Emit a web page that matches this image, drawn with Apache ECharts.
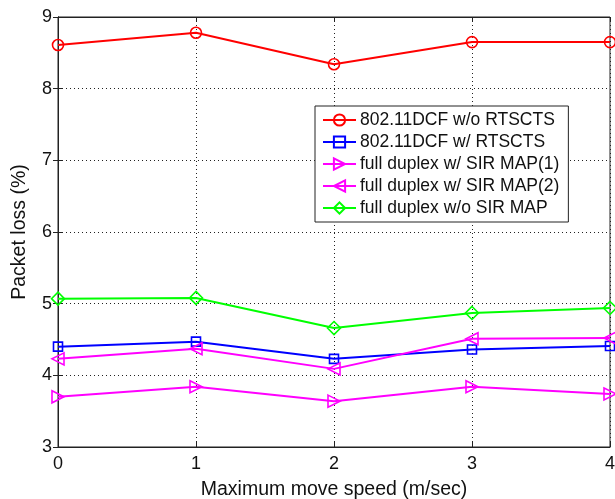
<!DOCTYPE html>
<html>
<head>
<meta charset="utf-8">
<script src="https://cdn.jsdelivr.net/npm/echarts@6/dist/echarts.min.js"></script>
<style>
  html, body { margin: 0; padding: 0; background: #fff; }
  #chart { width: 615px; height: 499px; }
</style>
</head>
<body>
<div id="chart"></div>
<script>
var speeds = [0, 1, 2, 3, 4]
var names = [
  '802.11DCF w/o RTSCTS',
  '802.11DCF w/ RTSCTS',
  'full duplex w/ SIR MAP(1)',
  'full duplex w/ SIR MAP(2)',
  'full duplex w/o SIR MAP'
]
var dcfNoRts = [8.61, 8.78, 8.34, 8.65, 8.65]
var dcfRts = [4.40, 4.47, 4.23, 4.36, 4.41]
var sirMap1 = [3.70, 3.84, 3.64, 3.84, 3.74]
var sirMap2 = [4.23, 4.37, 4.09, 4.51, 4.52]
var noSirMap = [5.07, 5.08, 4.66, 4.87, 4.94]

var colors = ['#ff0000', '#0000ff', '#ff00ff', '#ff00ff', '#00ff00']
var symbols = [
  'circle',
  'rect',
  'path://M0,0 L10,5 L0,10 Z',
  'path://M10,0 L0,5 L10,10 Z',
  'diamond'
]
var sizes = [11, 9, 12, 12, 13]
var values = [dcfNoRts, dcfRts, sirMap1, sirMap2, noSirMap]

function pairs(ys) {
  return speeds.map(function (x, i) { return [x, ys[i]] })
}

var series = values.map(function (ys, i) {
  return {
    name: names[i],
    type: 'line',
    data: pairs(ys),
    symbol: symbols[i],
    symbolSize: sizes[i],
    showAllSymbol: true,
    animation: false,
    lineStyle: { color: colors[i], width: 2 },
    itemStyle: { color: 'rgba(255,255,255,0)', borderColor: colors[i], borderWidth: 1.6 }
  }
})

var chart = echarts.init(document.getElementById('chart'))

var font = 'Liberation Sans, Arial, sans-serif'
var axisFont = { color: '#111', fontSize: 18, fontFamily: font }
var nameFont = { color: '#111', fontSize: 19.5, fontFamily: font }

chart.setOption({
  backgroundColor: '#fff',
  animation: false,
  grid: {
    left: 58, right: 5, top: 17, bottom: 52,
    outerBoundsMode: 'none',
    containLabel: false,
    show: true, borderColor: '#222', borderWidth: 1
  },
  legend: {
    orient: 'vertical',
    left: 315,
    top: 106,
    backgroundColor: '#fff',
    borderColor: '#222',
    borderWidth: 1,
    borderRadius: 0,
    padding: [5, 9, 5, 7],
    itemGap: 4,
    itemWidth: 33,
    itemHeight: 14,
    textStyle: { color: '#111', fontSize: 17.5, fontFamily: font, padding: [0, 0, 0, -1] },
    data: names
  },
  xAxis: [{
    type: 'value',
    min: 0, max: 4, interval: 1,
    name: 'Maximum move speed (m/sec)',
    nameLocation: 'middle',
    nameGap: 33,
    nameTextStyle: nameFont,
    axisLine: { show: true, lineStyle: { color: '#222' } },
    axisTick: { show: true, inside: true, length: 5, lineStyle: { color: '#222' } },
    axisLabel: Object.assign({ margin: 8 }, axisFont),
    splitLine: { show: true, lineStyle: { color: '#222', type: [1, 3], width: 1 } }
  }, {
    type: 'value',
    position: 'top',
    min: 0, max: 4, interval: 1,
    axisLine: { show: true, lineStyle: { color: '#222' } },
    axisTick: { show: true, inside: true, length: 5, lineStyle: { color: '#222' } },
    axisLabel: { show: false },
    splitLine: { show: false }
  }],
  yAxis: [{
    type: 'value',
    min: 3, max: 9, interval: 1,
    name: 'Packet loss (%)',
    nameLocation: 'middle',
    nameGap: 28,
    nameTextStyle: nameFont,
    axisLine: { show: true, lineStyle: { color: '#222' } },
    axisTick: { show: true, inside: true, length: 5, lineStyle: { color: '#222' } },
    axisLabel: Object.assign({ margin: 6 }, axisFont),
    splitLine: { show: true, lineStyle: { color: '#222', type: [1, 3], width: 1 } }
  }, {
    type: 'value',
    position: 'right',
    min: 3, max: 9, interval: 1,
    axisLine: { show: true, lineStyle: { color: '#222' } },
    axisTick: { show: true, inside: true, length: 5, lineStyle: { color: '#222' } },
    axisLabel: { show: false },
    splitLine: { show: false }
  }],
  series: series
})
</script>
</body>
</html>
